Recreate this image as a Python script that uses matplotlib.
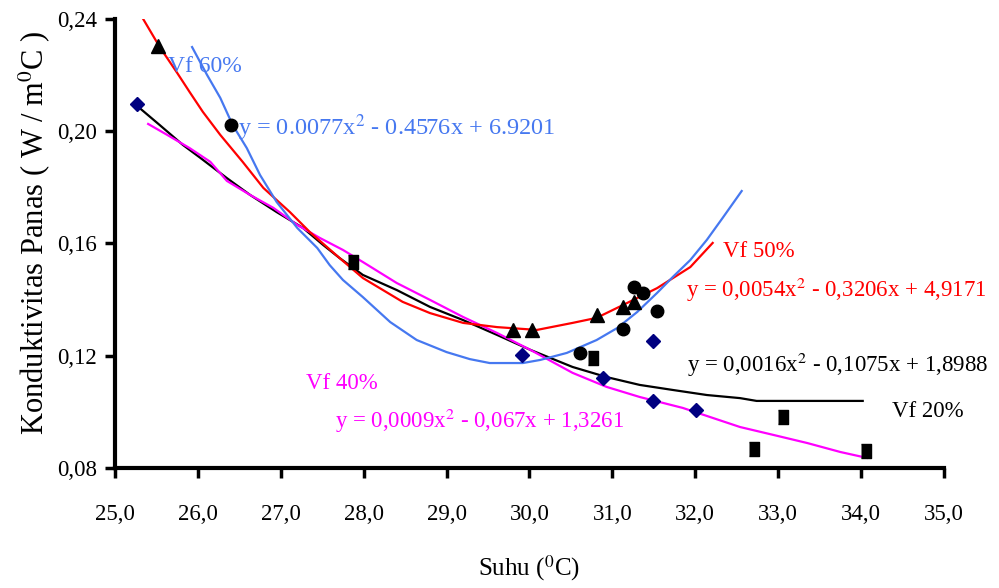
import matplotlib
matplotlib.use('Agg')
import matplotlib.pyplot as plt

plt.rcParams['font.family'] = ['Liberation Serif', 'DejaVu Serif']
plt.rcParams['mathtext.fontset'] = 'stix'

vf20_x = [25.27, 29.91, 30.89, 31.49, 31.49, 32.01]
vf20_y = [0.2097, 0.1203, 0.1120, 0.1039, 0.1253, 0.1007]
vf40_x = [27.87, 30.77, 32.71, 33.06, 34.06]
vf40_y = [0.1534, 0.1192, 0.0868, 0.0982, 0.0862]
vf50_x = [25.52, 29.80, 30.03, 30.81, 31.13, 31.26]
vf50_y = [0.2304, 0.1292, 0.1292, 0.1345, 0.1374, 0.1392]
vf60_x = [26.40, 30.61, 31.13, 31.26, 31.37, 31.54]
vf60_y = [0.2022, 0.1210, 0.1297, 0.1445, 0.1425, 0.1358]

# trend lines as drawn in the picture
t20_x = [25.28, 25.54, 25.82, 26.03, 26.35, 26.63, 26.95, 27.27, 27.51, 27.71, 27.99,
         28.40, 28.80, 29.20, 29.61, 30.01, 30.52, 30.93, 31.33, 31.73, 32.14, 32.54,
         32.74, 34.02]
t20_y = [0.2087, 0.2022, 0.1951, 0.1905, 0.1833, 0.1773, 0.1712, 0.1655, 0.1595, 0.1548, 0.1488,
         0.1434, 0.1374, 0.1327, 0.1274, 0.1221, 0.1160, 0.1124, 0.1096, 0.1078, 0.1060, 0.1049,
         0.1039, 0.1039]
t40_x = [25.40, 25.63, 25.90, 26.15, 26.35, 26.63, 26.91, 27.20, 27.47, 27.75, 27.99,
         28.40, 28.80, 29.20, 29.61, 30.01, 30.52, 30.93, 31.33, 31.85, 32.54, 32.94,
         33.35, 33.75, 34.07]
t40_y = [0.2026, 0.1987, 0.1940, 0.1891, 0.1823, 0.1773, 0.1727, 0.1666, 0.1620, 0.1577, 0.1534,
         0.1459, 0.1399, 0.1338, 0.1281, 0.1221, 0.1139, 0.1089, 0.1053, 0.1014, 0.0946, 0.0918,
         0.0889, 0.0857, 0.0836]
t50_x = [25.34, 25.54, 25.75, 25.90, 26.06, 26.27, 26.54, 26.79, 27.11, 27.35, 27.71,
         27.99, 28.47, 28.80, 29.20, 29.61, 30.09, 30.52, 30.81, 31.13, 31.54, 31.94, 32.21]
t50_y = [0.2400, 0.2300, 0.2208, 0.2140, 0.2069, 0.1987, 0.1891, 0.1798, 0.1712, 0.1641, 0.1548,
         0.1477, 0.1392, 0.1352, 0.1317, 0.1302, 0.1292, 0.1317, 0.1335, 0.1381, 0.1441, 0.1516, 0.1602]
t60_x = [25.93, 26.11, 26.27, 26.42, 26.59, 26.75, 26.95, 27.20, 27.44, 27.59, 27.75,
         27.99, 28.32, 28.64, 29.00, 29.28, 29.52, 29.92, 30.13, 30.45, 30.81, 31.06,
         31.30, 31.54, 31.73, 31.94, 32.14, 32.33, 32.56]
t60_y = [0.2300, 0.2201, 0.2119, 0.2022, 0.1940, 0.1844, 0.1748, 0.1655, 0.1584, 0.1523, 0.1470,
         0.1409, 0.1320, 0.1256, 0.1213, 0.1188, 0.1174, 0.1174, 0.1185, 0.1210, 0.1256, 0.1299,
         0.1356, 0.1424, 0.1481, 0.1541, 0.1613, 0.1691, 0.1787]

xticks = [25, 26, 27, 28, 29, 30, 31, 32, 33, 34, 35]
xtick_labels = ['25,0', '26,0', '27,0', '28,0', '29,0', '30,0', '31,0', '32,0', '33,0', '34,0', '35,0']
yticks = [0.08, 0.12, 0.16, 0.20, 0.24]
ytick_labels = ['0,08', '0,12', '0,16', '0,20', '0,24']

blue = '#4678F0'
red = '#FF0000'
magenta = '#FF00FF'
navy = '#000080'

fig = plt.figure(figsize=(9.99, 5.88), dpi=100)
ax = fig.add_axes([0.1151, 0.2041, 0.8298, 0.7636])

ax.plot(t20_x, t20_y, color='black', lw=1.6, zorder=2)
ax.plot(t40_x, t40_y, color=magenta, lw=1.6, zorder=2)
ax.plot(t50_x, t50_y, color=red, lw=1.6, zorder=2)
ax.plot(t60_x, t60_y, color=blue, lw=1.6, zorder=2)

rect = [(-0.39, -0.5), (0.39, -0.5), (0.39, 0.5), (-0.39, 0.5)]
ax.plot(vf20_x, vf20_y, 'D', color=navy, ms=7, ls='none', zorder=3)
ax.plot(vf40_x, vf40_y, marker=rect, color='black', ms=10, ls='none', zorder=3)
ax.plot(vf50_x, vf50_y, '^', color='black', ms=9.5, ls='none', zorder=3)
ax.plot(vf60_x, vf60_y, 'o', color='black', ms=9, ls='none', zorder=3)

# labels and equations
ax.text(25.64, 0.2211, 'Vf 60%', color=blue, fontsize=17, va='baseline')
ax.text(26.48, 0.1987, r'y = 0.0077x$^2$ - 0.4576x + 6.9201', color=blue, fontsize=17.5, va='baseline')
ax.text(32.33, 0.1552, 'Vf 50%', color=red, fontsize=16.5, va='baseline')
ax.text(31.89, 0.1409, r'y = 0,0054x$^2$ - 0,3206x + 4,9171', color=red, fontsize=16.5, va='baseline')
ax.text(31.90, 0.1142, r'y = 0,0016x$^2$ - 0,1075x + 1,8988', color='black', fontsize=16.5, va='baseline')
ax.text(34.37, 0.0982, 'Vf 20%', color='black', fontsize=16.5, va='baseline')
ax.text(27.30, 0.1082, 'Vf 40%', color=magenta, fontsize=16.5, va='baseline')
ax.text(27.65, 0.0943, r'y = 0,0009x$^2$ - 0,067x + 1,3261', color=magenta, fontsize=16.5, va='baseline')

ax.set_xlim(25, 35)
ax.set_ylim(0.08, 0.24)
ax.set_xticks(xticks)
ax.set_xticklabels(xtick_labels)
ax.set_yticks(yticks)
ax.set_yticklabels(ytick_labels)

for s in ['top', 'right']:
    ax.spines[s].set_visible(False)
for s in ['left', 'bottom']:
    ax.spines[s].set_linewidth(3)
ax.tick_params(axis='both', direction='out', length=7, width=2.5, labelsize=16.5)
ax.tick_params(axis='x', pad=19)
ax.tick_params(axis='y', pad=6)

ax.set_xlabel('Suhu ($^0$C)', fontsize=18)
ax.xaxis.label.set_va('center')
ax.xaxis.set_label_coords(0.5, -0.223)
ax.set_ylabel('Konduktivitas Panas ( W / m$^0$C )', fontsize=22)
ax.yaxis.label.set_va('center')
ax.yaxis.set_label_coords(-0.098, 0.525)

fig.savefig('out.png', dpi=100)
